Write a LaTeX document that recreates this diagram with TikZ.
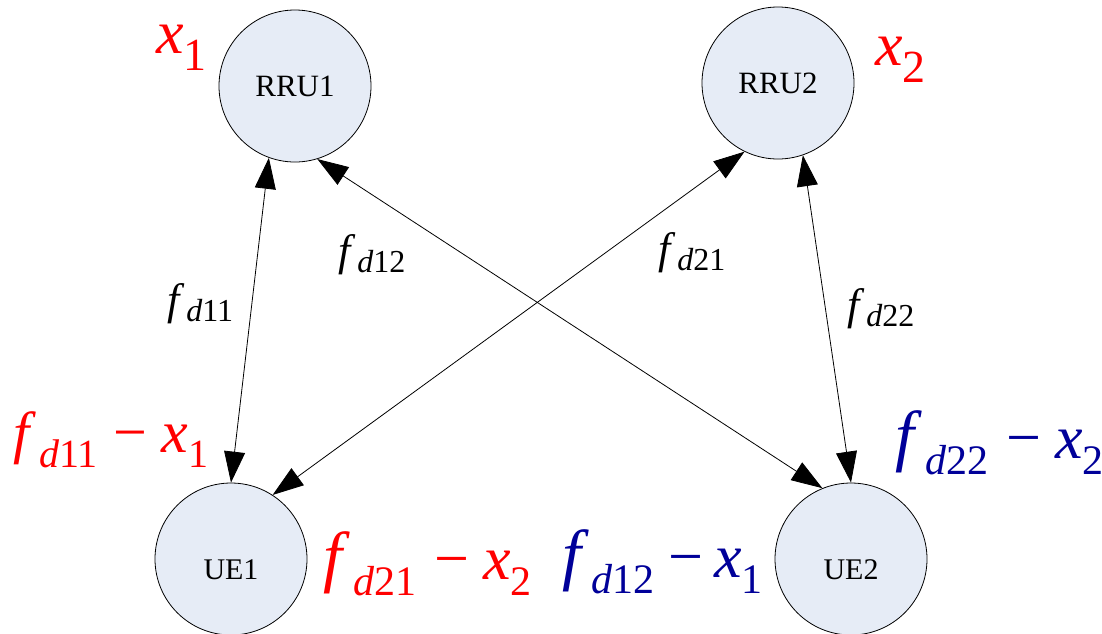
\documentclass[tikz,border=0pt]{standalone}
\usepackage{fontspec}
\setmainfont{Liberation Serif}
\usetikzlibrary{arrows.meta}
\newcommand{\fsz}[1]{\fontsize{#1}{#1}\selectfont}
\definecolor{redc}{RGB}{255,0,0}
\definecolor{bluec}{RGB}{0,0,153}
\definecolor{nodefill}{RGB}{230,236,246}
\tikzset{
  station/.style={circle, draw=black, line width=0.8pt, fill=nodefill,
    minimum size=152pt, inner sep=0pt, font=\fsz{31}},
  uest/.style={font=\fsz{30}, text height=40pt, text depth=0pt},
  link/.style={line width=0.8pt, {Triangle[length=31pt,width=21pt]}-{Triangle[length=31pt,width=21pt]}, shorten <=0pt, shorten >=0pt},
  blk/.style={inner sep=0pt, anchor=base west, text=black},
  redlab/.style={inner sep=0pt, anchor=base west, text=redc},
  bluelab/.style={inner sep=0pt, anchor=base west, text=bluec}
}
\begin{document}
\begin{tikzpicture}[x=1pt,y=-1pt]
\useasboundingbox (0,0) rectangle (1102,633);
\node[station] (rru1) at (295,86) {RRU1};
\node[station] (rru2) at (778,83) {RRU2};
\node[station,uest] (ue1) at (231,559) {UE1};
\node[station,uest] (ue2) at (851,559) {UE2};

\draw[link] (rru1.250) -- (ue1.90);
\draw[link] (rru1.287) -- (ue2.112);
\draw[link] (rru2.244) -- (ue1.57);
\draw[link] (rru2.289) -- (ue2.90);

\node[redlab] (x1) at (156,53) {\fsz{62}\itshape x\raisebox{-17pt}{\fsz{46}\upshape 1}};
\node[redlab] (x2) at (875,65) {\fsz{62}\itshape x\raisebox{-17pt}{\fsz{46}\upshape 2}};

\node[blk] (l11) at (167,314) {\fsz{44}\itshape f\hspace{7pt}\raisebox{-7pt}{\fsz{32}d\upshape 11}};
\node[blk] (l12) at (338,265) {\fsz{44}\itshape f\hspace{7pt}\raisebox{-7pt}{\fsz{32}d\upshape 12}};
\node[blk] (l21) at (658,263) {\fsz{44}\itshape f\hspace{7pt}\raisebox{-7pt}{\fsz{32}d\upshape 21}};
\node[blk] (l22) at (847,319) {\fsz{44}\itshape f\hspace{7pt}\raisebox{-7pt}{\fsz{32}d\upshape 22}};

\node[redlab] (e11) at (13,452) {\fsz{58}\itshape f\hspace{10pt}\raisebox{-15pt}{\fsz{40}d\upshape 11}\hspace{16pt}\fsz{60}\upshape −\hspace{14pt}\itshape x\raisebox{-15pt}{\fsz{40}\upshape 1}};
\node[redlab] (e21) at (323,579) {\fsz{68}\itshape f\hspace{11pt}\raisebox{-16pt}{\fsz{42}d\upshape 21}\hspace{18pt}\fsz{62}\upshape −\hspace{14pt}\itshape x\raisebox{-16pt}{\fsz{42}\upshape 2}};
\node[bluelab] (e12) at (562,577) {\fsz{68}\itshape f\hspace{10pt}\raisebox{-16pt}{\fsz{42}d\upshape 12}\hspace{14pt}\fsz{62}\upshape −\hspace{11pt}\itshape x\raisebox{-16pt}{\fsz{42}\upshape 1}};
\node[bluelab] (e22) at (895,458) {\fsz{68}\itshape f\hspace{11pt}\raisebox{-16pt}{\fsz{42}d\upshape 22}\hspace{18pt}\fsz{62}\upshape −\hspace{14pt}\itshape x\raisebox{-16pt}{\fsz{42}\upshape 2}};
\end{tikzpicture}
\end{document}
